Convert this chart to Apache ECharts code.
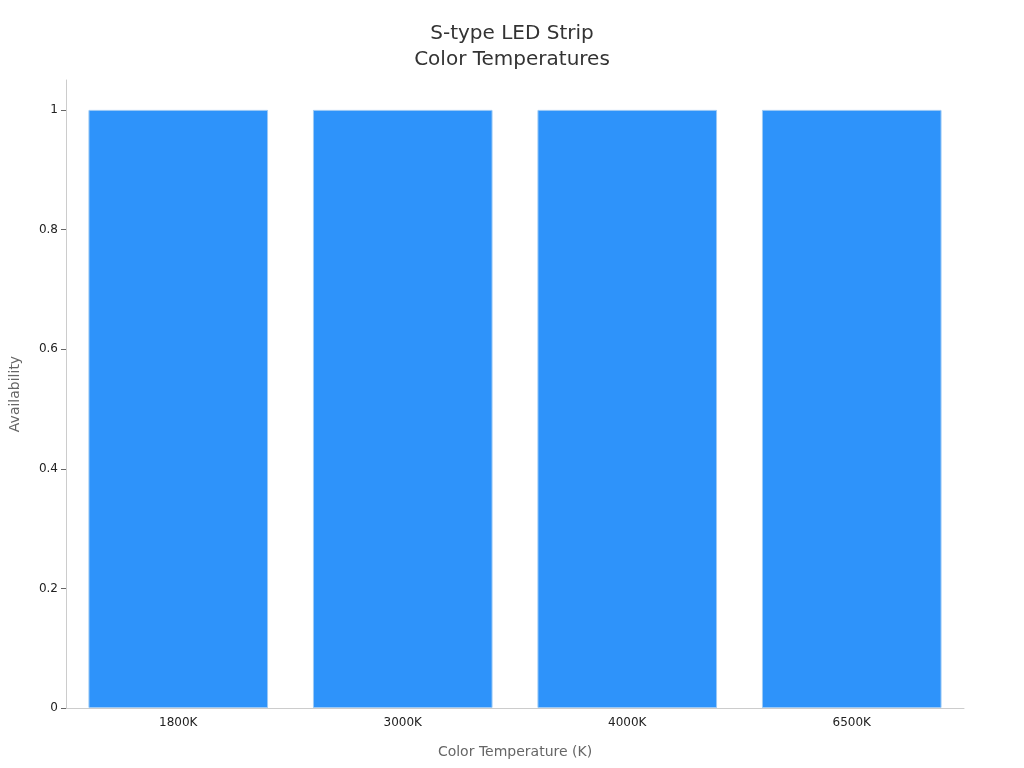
<!DOCTYPE html>
<html>
<head>
<meta charset="utf-8">
<script src="https://cdn.jsdelivr.net/npm/echarts@6/dist/echarts.min.js"></script>
<style>
  html, body { margin: 0; padding: 0; background: #fff; }
  #main { width: 1024px; height: 768px; }
</style>
</head>
<body>
<div id="main"></div>
<script>
// data
const categories = ['1800K', '3000K', '4000K', '6500K'];
const availability = [1, 1, 1, 1];
const yTicks = [0, 0.2, 0.4, 0.6, 0.8, 1];

let myChart = echarts.init(document.getElementById('main'));
myChart.setOption({
    animation: false,
    textStyle: { fontFamily: 'DejaVu Sans' },
    title: {
        text: 'S-type LED Strip\nColor Temperatures',
        left: 'center',
        top: 16,
        textStyle: { fontSize: 20, fontWeight: 'normal', color: '#333', lineHeight: 26 }
    },
    grid: { left: 62, right: 60, top: 80, bottom: 60 },
    xAxis: {
        type: 'category',
        data: categories,
        name: 'Color Temperature (K)',
        nameLocation: 'middle',
        nameGap: 37,
        nameTextStyle: { fontSize: 14, color: '#666' },
        axisLine: { lineStyle: { color: '#ccc' } },
        axisTick: { alignWithLabel: true, lineStyle: { color: '#666' } },
        axisLabel: { fontSize: 12, color: '#222', margin: 9 }
    },
    yAxis: {
        type: 'value',
        min: 0,
        max: 1.05,
        name: 'Availability',
        nameLocation: 'middle',
        nameGap: 44,
        nameTextStyle: { fontSize: 14, color: '#666' },
        splitLine: { show: false },
        axisLine: { show: true, lineStyle: { color: '#ccc' } },
        axisTick: { show: true, customValues: yTicks, lineStyle: { color: '#666' } },
        axisLabel: { fontSize: 12, color: '#222', customValues: yTicks }
    },
    series: [
        {
            type: 'bar',
            data: availability,
            barCategoryGap: '20%',
            itemStyle: { color: '#2E93FA', borderColor: '#9cc9f5', borderWidth: 1 }
        }
    ]
});
</script>
</body>
</html>
